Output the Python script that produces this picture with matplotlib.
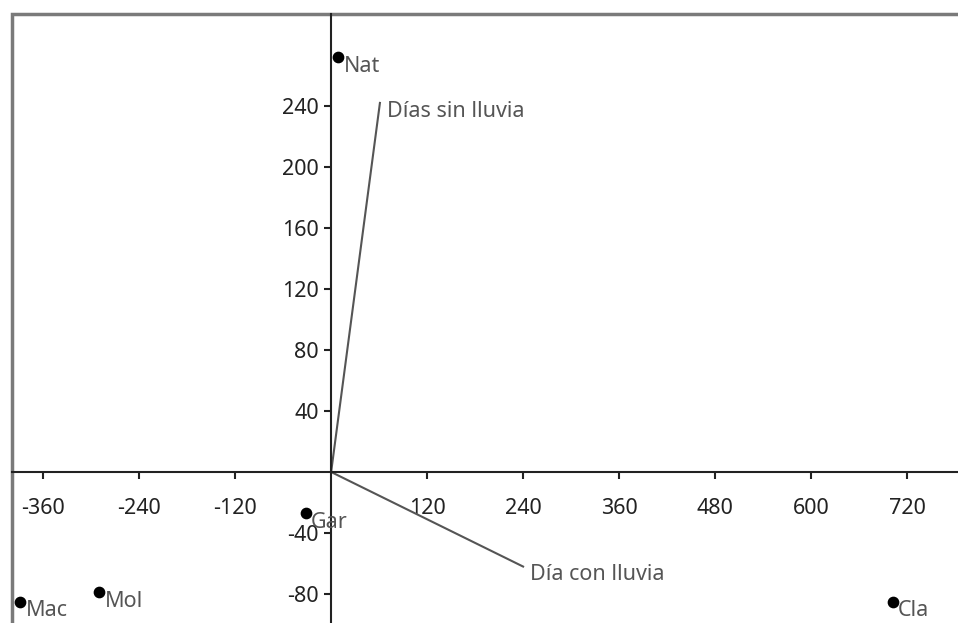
import numpy as np
import matplotlib.pyplot as plt
from matplotlib.patches import Rectangle

# Biplot: observaciones y vectores de variables
obs_names = ["Nat", "Gar", "Mac", "Mol", "Cla"]
obs_x = [9, -32, -389, -290, 702]
obs_y = [272, -27, -85, -79, -85]

var_names = ["Días sin lluvia", "Día con lluvia"]
var_x = [61, 240]
var_y = [242, -62]

xticks = [-360, -240, -120, 120, 240, 360, 480, 600, 720]
yticks = [-80, -40, 40, 80, 120, 160, 200, 240]

plt.rcParams['font.family'] = ['Noto Sans', 'DejaVu Sans']
plt.rcParams['axes.unicode_minus'] = False

fig = plt.figure(figsize=(9.58, 6.23), dpi=100)
# los bordes derecho e inferior quedan fuera de la imagen
ax = fig.add_axes([12/958, -7/623, 956/958, 616/623])
ax.set_xlim(-399, 796.25)
ax.set_ylim(-103.6, 300.3)

for s in ['right', 'top']:
    ax.spines[s].set_visible(False)
ax.spines['left'].set_position('zero')
ax.spines['bottom'].set_position('zero')
ax.spines['left'].set_linewidth(1.5)
ax.spines['bottom'].set_linewidth(1.5)
ax.spines['left'].set_color('#222222')
ax.spines['bottom'].set_color('#222222')

# marco gris
ax.add_patch(Rectangle((0, 0), 1, 1, transform=ax.transAxes, fill=False,
                       edgecolor='#7a7a7a', linewidth=2.5, clip_on=False, zorder=0))

ax.set_xticks(xticks)
ax.set_yticks(yticks)
ax.tick_params(axis='both', direction='out', length=5, width=1.5, color='#222222',
               labelsize=15.5, labelcolor='#222222')
ax.tick_params(axis='x', pad=14)
ax.tick_params(axis='y', pad=4)

for vx, vy, name in zip(var_x, var_y, var_names):
    ax.plot([0, vx], [0, vy], color='#555555', lw=1.5, zorder=2)
    ax.annotate(name, (vx, vy), xytext=(5, -6), textcoords='offset points',
                ha='left', va='center', fontsize=15.5, color='#555555')

ax.scatter(obs_x, obs_y, s=55, c='black', zorder=3, clip_on=False)
for ox, oy, name in zip(obs_x, obs_y, obs_names):
    ax.annotate(name, (ox, oy), xytext=(4, 1), textcoords='offset points',
                ha='left', va='top', fontsize=15.5, color='#555555')

plt.savefig('out.png', dpi=100)
plt.close()
